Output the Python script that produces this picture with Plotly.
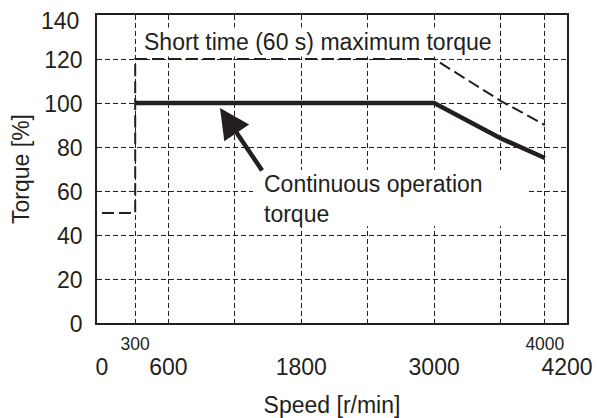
import plotly.graph_objects as go

# ---- data ----
speed_max = [0, 300, 300, 3000, 3600, 4000]
torque_max = [50, 50, 120, 120, 101, 90]

speed_cont = [300, 3000, 3600, 4000]
torque_cont = [100, 100, 84, 75]

grid_speeds = [300, 600, 1200, 1800, 2400, 3000, 3600, 4000]
grid_labels = ["300", "", "", "", "", "", "", "4000"]
main_speeds = [0, 600, 1800, 3000, 4200]
main_labels = ["0", "600", "1800", "3000", "4200"]
torque_ticks = [0, 20, 40, 60, 80, 100, 120]
torque_top = [140]

label_max = "Short time (60 s) maximum torque"
label_cont = "Continuous operation<br>torque"

INK = "#231f20"
FONT = "Liberation Sans, Arial, sans-serif"


def f(size):
    return dict(family=FONT, size=size, color=INK)


fig = go.Figure()
fig.add_trace(go.Scatter(
    x=speed_max, y=torque_max, mode="lines", xaxis="x2",
    line=dict(color=INK, width=2, dash="12px,5px"),
    showlegend=False, hoverinfo="skip"))
fig.add_trace(go.Scatter(
    x=speed_cont, y=torque_cont, mode="lines",
    line=dict(color=INK, width=4.5),
    showlegend=False, hoverinfo="skip"))

# white background behind the continuous-torque label (covers grid lines)
fig.add_shape(type="rect", xref="x", yref="y", x0=1364, x1=3839, y0=44, y1=69.5,
              fillcolor="white", line=dict(width=0), layer="between")

fig.add_annotation(x=360, y=127.7, xref="x", yref="y", text=label_max,
                   showarrow=False, xanchor="left", yanchor="middle",
                   font=f(23), bgcolor="white", borderpad=1)
fig.add_annotation(x=1445, y=56.4, xref="x", yref="y", text=label_cont,
                   showarrow=False, xanchor="left", yanchor="middle", align="left",
                   font=f(23))
# arrow
fig.add_annotation(x=1066, y=97.7, ax=1455, ay=68.6, xref="x", yref="y",
                   axref="x", ayref="y", text="", showarrow=True,
                   arrowhead=2, arrowsize=1.33, arrowwidth=4.5, arrowcolor=INK,
                   standoff=0, startstandoff=0)

# top y tick label (sits slightly below the top frame in the original)
for v in torque_top:
    fig.add_annotation(x=0, y=v, xref="paper", yref="y", text=str(v),
                       showarrow=False, xanchor="right", yanchor="middle",
                       xshift=-16, yshift=-6, font=f(23))

xr = [-45, 4200]
# page body adds an 8px offset, so the figure is 8px smaller than the window
fig.update_layout(
    width=597, height=410,
    margin=dict(l=89, r=38, t=7, b=95),
    paper_bgcolor="white", plot_bgcolor="white",
    font=f(23),
    xaxis=dict(
        range=xr, tickvals=grid_speeds, ticktext=grid_labels,
        tickfont=f(17.5), ticks="", ticklabelstandoff=4, automargin=False,
        showgrid=True, gridcolor=INK, gridwidth=1, griddash="5px,3px",
        zeroline=False, showline=True, linecolor=INK, linewidth=1.5, mirror=True,
    ),
    xaxis2=dict(
        overlaying="x", matches="x", anchor="y", side="bottom",
        tickvals=main_speeds, ticktext=main_labels, automargin=False,
        tickfont=f(23), ticks="", ticklabelstandoff=28, ticklabeloverflow="allow",
        showgrid=False, zeroline=False, showline=False,
        title=dict(text="Speed [r/min]", font=f(23), standoff=22),
    ),
    yaxis=dict(
        range=[0, 140], tickvals=torque_ticks, tickfont=f(23), automargin=False,
        ticks="", ticklabelstandoff=8, ticklabelshift=1, ticklabeloverflow="allow",
        showgrid=True, gridcolor=INK, gridwidth=1, griddash="5px,3px",
        zeroline=False, showline=True, linecolor=INK, linewidth=1.5, mirror=True,
        title=dict(text="Torque [%]", font=f(23), standoff=12),
    ),
)

fig.write_html("out.html")
